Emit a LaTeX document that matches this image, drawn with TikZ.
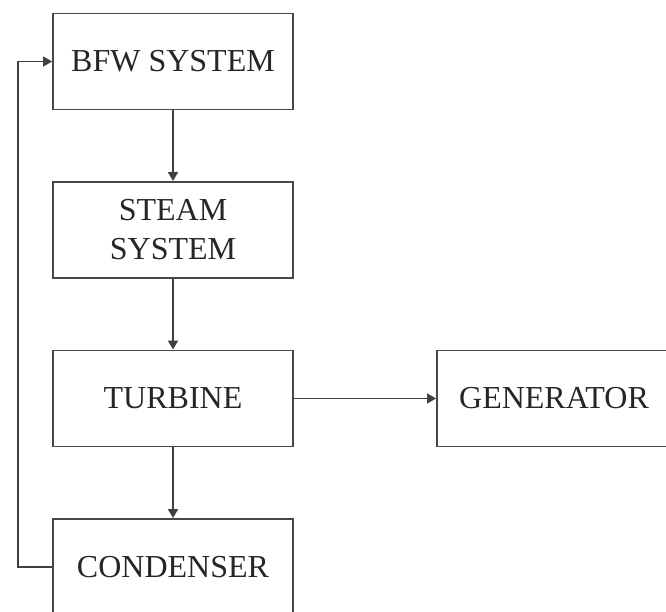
\documentclass[tikz,border=0pt]{standalone}
\usepackage{fontspec}
\setmainfont{Liberation Serif}
\usetikzlibrary{arrows.meta}
\begin{document}
\begin{tikzpicture}[x=1pt,y=-1pt,
  blk/.style={draw=black!72, line width=1.9pt, fill=white, inner sep=0pt,
    minimum width=240pt, minimum height=96pt, align=center, text=black!85,
    font=\fontsize{32}{39}\selectfont},
  conn/.style={draw=black!75, line width=1.7pt, -{Triangle[width=10pt,length=9pt]}}]
\useasboundingbox (0,0) rectangle (666,612);
\clip (0,0) rectangle (666,612);
\node[blk] (bfw) at (173,61.5) {BFW SYSTEM};
\node[blk] (steam) at (173,230) {STEAM\\SYSTEM};
\node[blk] (turb) at (173,398.5) {TURBINE};
\node[blk] (cond) at (173,567) {CONDENSER};
\node[blk, minimum width=234pt] (gen) at (554,398.5) {GENERATOR};
\draw[conn] (bfw) -- (steam);
\draw[conn] (steam) -- (turb);
\draw[conn] (turb) -- (cond);
\draw[conn] (turb) -- (gen);
\draw[conn] (cond.west) -- ++(-34,0) |- (bfw.west);
\end{tikzpicture}
\end{document}
